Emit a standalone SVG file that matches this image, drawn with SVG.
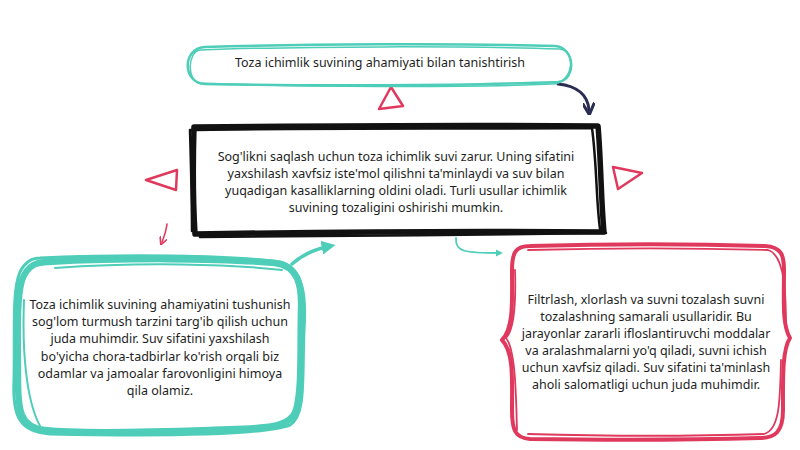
<svg xmlns="http://www.w3.org/2000/svg" width="800" height="450" viewBox="0 0 800 450">
<defs>
<style>
.t{font-family:"Noto Sans","Open Sans","DejaVu Sans",sans-serif;font-size:12.5px;fill:#1e1e1e;text-anchor:middle}
.teal{fill:none;stroke:#4ecdb8;stroke-linecap:round;stroke-linejoin:round}
.blk{fill:none;stroke:#111;stroke-linecap:round;stroke-linejoin:round}
.red{fill:none;stroke:#e0395e;stroke-linecap:round;stroke-linejoin:round}
</style>
<marker id="ahT" viewBox="0 0 10 10" refX="6" refY="5" markerWidth="4" markerHeight="4" orient="auto"><path d="M0,0 L10,5 L0,10 Z" fill="#4ecdb8"/></marker>
<marker id="ahN" viewBox="0 0 10 10" refX="6" refY="5" markerWidth="4" markerHeight="4" orient="auto"><path d="M0,0 L10,5 L0,10" fill="none" stroke="#2a2d52" stroke-width="2.5"/></marker>
<marker id="ahR" viewBox="0 0 10 10" refX="6" refY="5" markerWidth="5" markerHeight="5" orient="auto"><path d="M0,0 L10,5 L0,10" fill="none" stroke="#e0395e" stroke-width="2"/></marker>
</defs>
<rect width="800" height="450" fill="#fff"/>

<g id="connectors">
<path d="M558,84 C578,86 588,96 589,110" fill="none" stroke="#2a2d52" stroke-width="3" stroke-linecap="round" marker-end="url(#ahN)"/>
<path d="M292,264 C302,255 315,249 330,246" fill="none" stroke="#4ecdb8" stroke-width="3.5" stroke-linecap="round" marker-end="url(#ahT)"/>
<path d="M456,238 C455,252 465,253 500,253" fill="none" stroke="#4ecdb8" stroke-width="1.8" stroke-linecap="round" marker-end="url(#ahT)"/>
<path d="M167,224 C166,232 164,237 162,242" fill="none" stroke="#e0395e" stroke-width="1.6" stroke-linecap="round" marker-end="url(#ahR)"/>
</g>

<g id="decor">
<path class="red" stroke-width="2.5" d="M391,87 L403,106 L379,109 Z"/>
<path class="red" stroke-width="2.5" d="M177,170 L176,190 L146,180 Z"/>
<path class="red" stroke-width="2.5" d="M613,167 L642,173 L618,189 Z"/>
</g>

<g id="node-top">
<path class="teal" stroke-width="2.5" d="M205,47 C300,44 460,43 555,46 C575,47 577,80 558,82 C460,86 300,86 205,84 C182,83 182,48 205,47 Z"/>
<path class="teal" stroke-width="1.5" d="M200,50 C300,46 470,46 560,49 C578,52 572,84 552,84 C460,88 300,87 200,83 C186,81 188,51 200,50 Z"/>
<text class="t" x="380" y="67">Toza ichimlik suvining ahamiyati bilan tanishtirish</text>
</g>

<g id="node-center">
<path class="blk" stroke-width="5.5" d="M194,127 C300,126 480,125 598,126 C601,160 601,200 604,232 C480,231 320,232 195,234 C193,200 193,160 194,127 Z"/>
<path class="blk" stroke-width="2.5" d="M190,130 C300,128 480,129 592,128 C597,165 596,200 600,229 M190,130 C191,165 192,200 192,231 M200,237 C320,236 480,235 606,233"/>
<text class="t" x="396" y="161">Sog'likni saqlash uchun toza ichimlik suvi zarur. Uning sifatini</text>
<text class="t" x="396" y="178">yaxshilash xavfsiz iste'mol qilishni ta'minlaydi va suv bilan</text>
<text class="t" x="396" y="195">yuqadigan kasalliklarning oldini oladi. Turli usullar ichimlik</text>
<text class="t" x="396" y="212">suvining tozaligini oshirishi mumkin.</text>
</g>

<g id="node-left">
<path class="teal" stroke-width="6.5" d="M48,262 C120,258 220,258 275,263 C298,266 302,285 301,310 C300,350 302,390 296,410 C290,430 260,428 210,430 C150,432 80,434 45,430 C20,428 18,410 18,380 C18,340 16,300 22,280 C28,264 38,262 48,262 Z"/>
<path class="teal" stroke-width="3" d="M40,258 C120,254 230,255 280,262 C305,268 306,300 304,330 C302,380 306,415 290,425 C260,436 150,436 50,434 C22,432 12,420 14,380 C15,330 12,290 20,272 C26,260 34,258 40,258 Z"/>
<path class="teal" stroke-width="2" d="M55,268 C140,262 230,264 282,270 M24,300 C22,350 26,400 40,426"/>
<text class="t" x="160" y="309">Toza ichimlik suvining ahamiyatini tushunish</text>
<text class="t" x="160" y="326">sog'lom turmush tarzini targ'ib qilish uchun</text>
<text class="t" x="160" y="343">juda muhimdir. Suv sifatini yaxshilash</text>
<text class="t" x="160" y="361">bo'yicha chora-tadbirlar ko'rish orqali biz</text>
<text class="t" x="160" y="378">odamlar va jamoalar farovonligini himoya</text>
<text class="t" x="160" y="395">qila olamiz.</text>
</g>

<g id="node-right">
<path class="red" stroke-width="4" d="M530,246 C600,244 700,244 765,246 C782,247 784,256 784,270 C784,300 782,325 790,338 C782,350 783,380 783,410 C783,432 775,438 760,438 C690,440 600,440 530,439 C515,438 512,430 512,410 C512,380 514,352 502,340 C514,328 512,300 512,270 C512,252 516,246 530,246 Z"/>
<path class="red" stroke-width="1.8" d="M528,250 C600,248 700,248 768,250 C786,255 786,300 786,330 M528,434 C600,436 700,436 764,434 C780,430 780,400 781,360 M515,270 C516,300 514,330 506,338 C516,350 516,400 517,430"/>
<text class="t" x="646" y="304">Filtrlash, xlorlash va suvni tozalash suvni</text>
<text class="t" x="646" y="321">tozalashning samarali usullaridir. Bu</text>
<text class="t" x="646" y="338">jarayonlar zararli ifloslantiruvchi moddalar</text>
<text class="t" x="646" y="355">va aralashmalarni yo'q qiladi, suvni ichish</text>
<text class="t" x="646" y="372">uchun xavfsiz qiladi. Suv sifatini ta'minlash</text>
<text class="t" x="646" y="389">aholi salomatligi uchun juda muhimdir.</text>
</g>
</svg>
